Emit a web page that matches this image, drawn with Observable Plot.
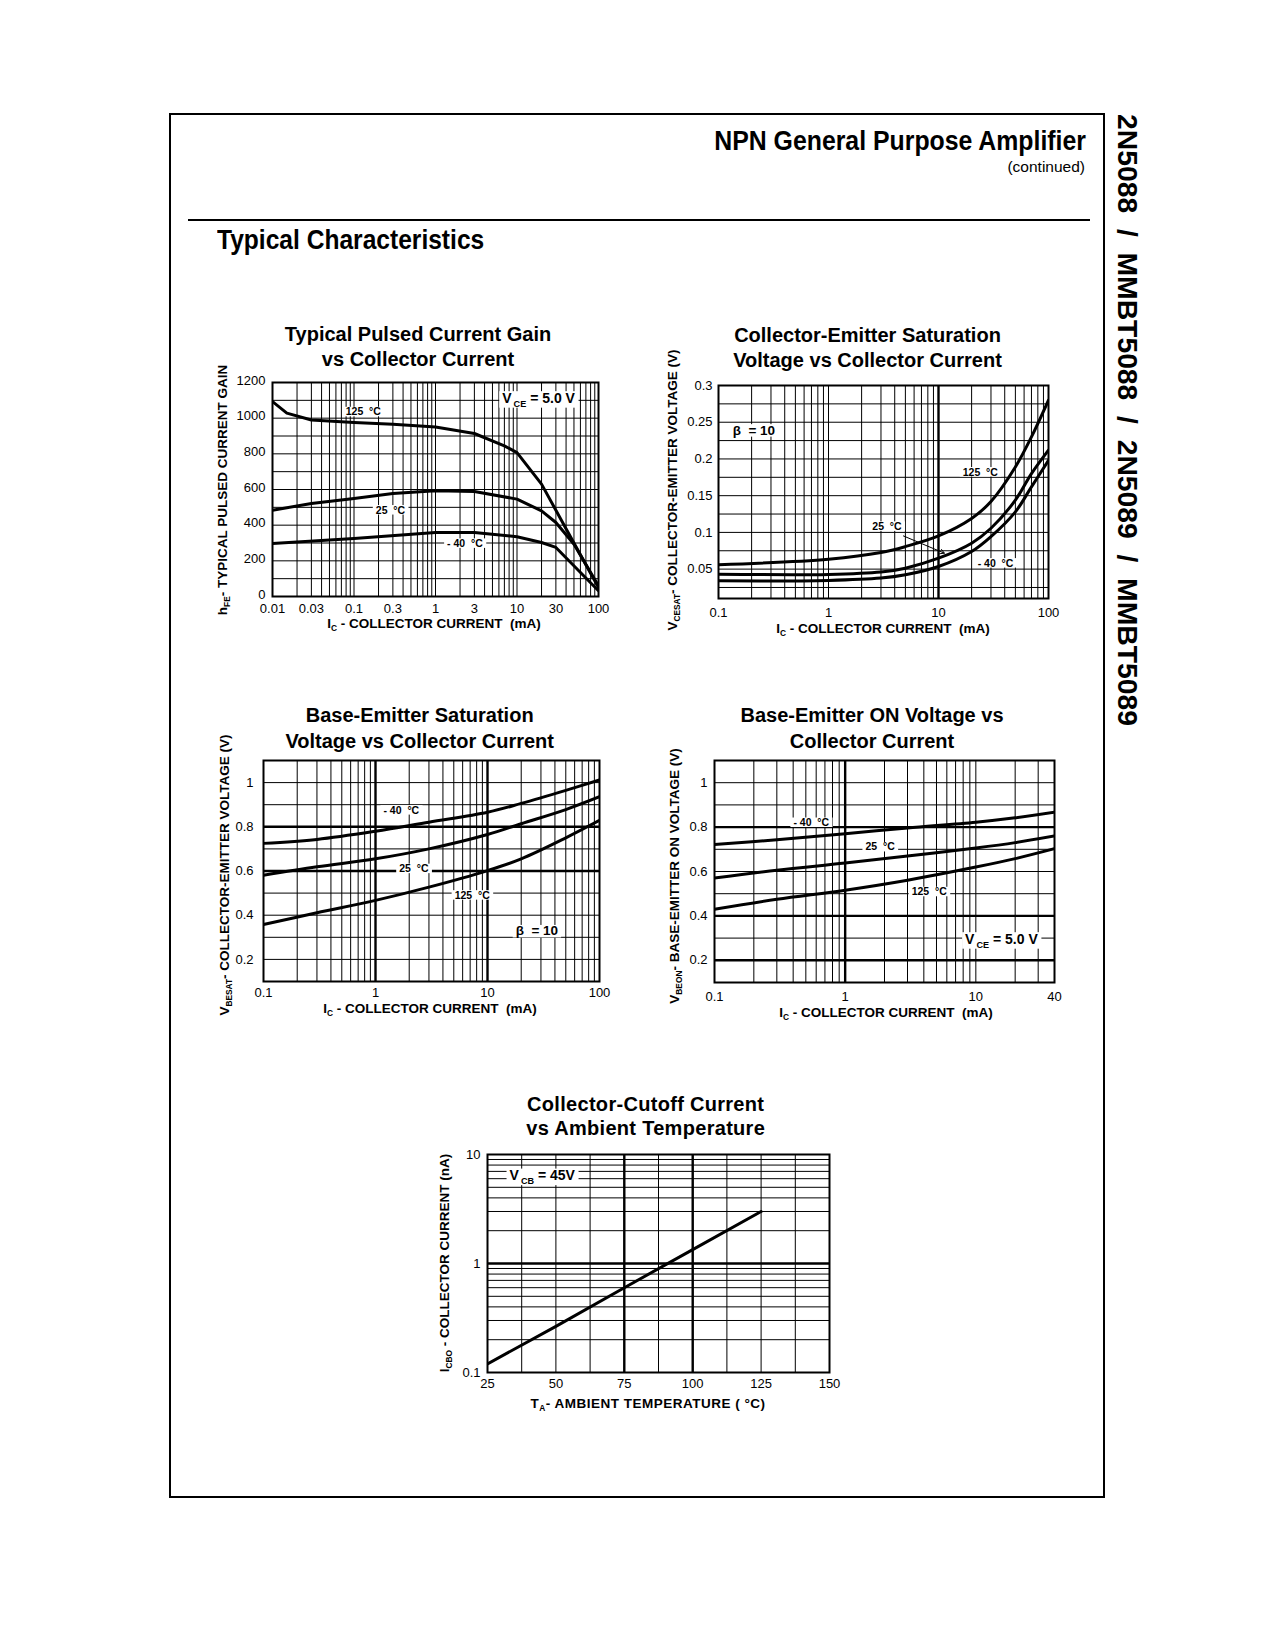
<!DOCTYPE html>
<html>
<head>
<meta charset="utf-8">
<script src="https://cdn.jsdelivr.net/npm/d3@7"></script>
<script src="https://cdn.jsdelivr.net/npm/@observablehq/plot@0.6"></script>
<style>
  html, body { margin: 0; padding: 0; background: #fff; }
  body { font-family: "Liberation Sans", Arial, Helvetica, sans-serif; color: #000; }
  #page { position: relative; width: 1275px; height: 1650px; overflow: hidden; background: #fff; }
  .abs { position: absolute; }
  .lbl { position: absolute; white-space: nowrap; }
  .lbl sub { font-size: 62%; line-height: 0; vertical-align: -0.3em; }
</style>
</head>
<body>
<div id="page"></div>
<script>
// ================= DATA =================
// Chart 1: Typical Pulsed Current Gain vs Collector Current (hFE vs Ic, mA)
const hfe_ic_125 = [0.01, 0.015, 0.03, 0.1, 0.3, 1, 3, 7, 10, 20, 40, 100];
const hfe_125    = [1093, 1028, 990, 976, 966, 951, 914, 845, 807, 630, 380, 50];
const hfe_ic_25  = [0.01, 0.03, 0.1, 0.3, 1, 3, 10, 20, 30, 50, 100];
const hfe_25     = [484, 521, 550, 578, 593, 589, 546, 480, 415, 293, 60];
const hfe_ic_m40 = [0.01, 0.1, 1, 3, 10, 20, 30, 100];
const hfe_m40    = [297, 325, 359, 359, 335, 303, 275, 32];
const hfe_xticks = [0.01, 0.03, 0.1, 0.3, 1, 3, 10, 30, 100];
const hfe_yticks = [0, 200, 400, 600, 800, 1000, 1200];

// Chart 2: Collector-Emitter Saturation Voltage vs Collector Current
const vcesat_ic   = [0.1, 1, 3, 5, 10, 20, 30, 50, 70, 100];
const vcesat_125  = [0.056, 0.0636, 0.0726, 0.0807, 0.0952, 0.119, 0.142, 0.189, 0.230, 0.280];
const vcesat_25   = [0.043, 0.0428, 0.046, 0.0513, 0.0649, 0.0853, 0.1056, 0.144, 0.180, 0.212];
const vcesat_m40  = [0.034, 0.0346, 0.0378, 0.0423, 0.0536, 0.074, 0.0943, 0.128, 0.162, 0.198];
const vcesat_xticks = [0.1, 1, 10, 100];
const vcesat_yticks = [0.05, 0.1, 0.15, 0.2, 0.25, 0.3];

// Chart 3: Base-Emitter Saturation Voltage vs Collector Current
const vbesat_ic  = [0.1, 0.3, 1, 3, 10, 20, 50, 100];
const vbesat_m40 = [0.725, 0.743, 0.780, 0.821, 0.866, 0.906, 0.965, 1.012];
const vbesat_25  = [0.581, 0.619, 0.655, 0.700, 0.765, 0.814, 0.878, 0.936];
const vbesat_125 = [0.358, 0.411, 0.467, 0.527, 0.602, 0.655, 0.750, 0.829];
const vbesat_xticks = [0.1, 1, 10, 100];
const vbesat_yticks = [0.2, 0.4, 0.6, 0.8, 1];

// Chart 4: Base-Emitter ON Voltage vs Collector Current
const vbeon_ic  = [0.1, 0.3, 1, 3, 10, 20, 40];
const vbeon_m40 = [0.722, 0.743, 0.770, 0.796, 0.822, 0.842, 0.867];
const vbeon_25  = [0.571, 0.606, 0.638, 0.670, 0.706, 0.730, 0.760];
const vbeon_125 = [0.430, 0.475, 0.516, 0.561, 0.620, 0.658, 0.703];
const vbeon_xticks = [0.1, 1, 10, 40];
const vbeon_yticks = [0.2, 0.4, 0.6, 0.8, 1];

// Chart 5: Collector-Cutoff Current vs Ambient Temperature
const icbo_ta = [25, 50, 75, 100, 125];
const icbo_na = [0.12, 0.265, 0.6, 1.34, 3.0];
const icbo_xticks = [25, 50, 75, 100, 125, 150];
const icbo_yticks = [0.1, 1, 10];

// annotation labels (data units)
const hfe_labels = [
  {x: 0.13, y: 1035, text: "125  °C", size: 10.5},
  {x: 0.28, y: 484, text: "25  °C", size: 10.5},
  {x: 2.3, y: 297, text: "- 40  °C", size: 10.5},
  {x: 18.4, y: 1112, text: "V_{CE} = 5.0 V", size: 14}
];
const vcesat_labels = [
  {x: 0.21, y: 0.239, text: "β  = 10", size: 13.5},
  {x: 24, y: 0.182, text: "125  °C", size: 10.5},
  {x: 3.4, y: 0.108, text: "25  °C", size: 10.5},
  {x: 33, y: 0.058, text: "- 40  °C", size: 10.5}
];
const vcesat_arrows = [{x1: 4.8, y1: 0.0952, x2: 11.3, y2: 0.0717}];
const vbesat_labels = [
  {x: 1.7, y: 0.875, text: "- 40  °C", size: 10.5},
  {x: 2.2, y: 0.61, text: "25  °C", size: 10.5},
  {x: 7.3, y: 0.49, text: "125  °C", size: 10.5},
  {x: 27.6, y: 0.328, text: "β  = 10", size: 13.5}
];
const vbeon_labels = [
  {x: 0.55, y: 0.82, text: "- 40  °C", size: 10.5},
  {x: 1.85, y: 0.71, text: "25  °C", size: 10.5},
  {x: 4.4, y: 0.508, text: "125  °C", size: 10.5},
  {x: 15.7, y: 0.295, text: "V_{CE} = 5.0 V", size: 14}
];
const icbo_labels = [
  {x: 45, y: 6.4, text: "V_{CB} = 45V", size: 14}
];

// ================= HELPERS =================
const page = document.getElementById("page");
const series = (xs, ys, t) => xs.map((x, i) => ({x, y: ys[i], t}));
function logGrid(lo, hi) {
  const out = [];
  for (let e = Math.floor(Math.log10(lo)); e <= Math.ceil(Math.log10(hi)); e++) {
    for (let k = 1; k <= 9; k++) {
      const v = +(k * Math.pow(10, e)).toPrecision(6);
      if (v >= lo * 0.999 && v <= hi * 1.001) out.push(v);
    }
  }
  return out;
}
function linGrid(lo, hi, step) {
  const out = [];
  const n = Math.round((hi - lo) / step);
  for (let i = 0; i <= n; i++) out.push(+(lo + i * step).toPrecision(6));
  return out;
}
const SVGNS = "http://www.w3.org/2000/svg";
const clean = s => s.replace(/_\{([^}]*)\}/g, "$1");
function subify(svg) {
  svg.querySelectorAll("text").forEach(t => {
    const spans = t.querySelectorAll("tspan");
    const targets = spans.length ? [...spans] : [t];
    targets.forEach(el => {
      const s = el.textContent;
      if (!s.includes("_{")) return;
      el.textContent = "";
      const parts = s.split(/(_\{[^}]*\})/).filter(p => p);
      let shifted = false;
      for (const p of parts) {
        const ts = document.createElementNS(SVGNS, "tspan");
        if (p.startsWith("_{")) {
          ts.textContent = p.slice(2, -1);
          ts.setAttribute("font-size", "65%");
          ts.setAttribute("dy", "4");
          ts.setAttribute("dx", "2");
          shifted = true;
        } else {
          ts.textContent = p;
          if (shifted) { ts.setAttribute("dy", "-4"); shifted = false; }
        }
        el.appendChild(ts);
      }
    });
  });
}
function boxify(svg, labels) {
  const wanted = new Set(labels.map(d => clean(d.text)));
  svg.querySelectorAll("text").forEach(t => {
    if (!wanted.has(t.textContent)) return;
    const b = t.getBBox();
    const r = document.createElementNS(SVGNS, "rect");
    r.setAttribute("x", b.x - 3);
    r.setAttribute("y", b.y + 1.5);
    r.setAttribute("width", b.width + 6);
    r.setAttribute("height", Math.max(0, b.height - 2.5));
    r.setAttribute("fill", "white");
    const tr = t.getAttribute("transform");
    if (tr) r.setAttribute("transform", tr);
    t.parentNode.insertBefore(r, t);
  });
}
function htmlText(html, x, baseline, o = {}) {
  const size = o.size || 13.5, weight = o.weight || "bold", anchor = o.anchor || "middle", sx = o.sx || 1;
  const d = document.createElement("div");
  d.className = "lbl";
  d.innerHTML = html;
  d.style.left = x + "px";
  d.style.top = (baseline - 0.8465 * size) + "px";
  d.style.fontSize = size + "px";
  d.style.fontWeight = weight;
  d.style.lineHeight = size + "px";
  if (o.ls) d.style.letterSpacing = o.ls + "px";
  const tx = anchor === "middle" ? "-50%" : anchor === "end" ? "-100%" : "0";
  d.style.transformOrigin = anchor === "middle" ? "center" : anchor === "end" ? "right" : "left";
  d.style.transform = `translateX(${tx}) scaleX(${sx})`;
  page.appendChild(d);
  return d;
}
function rotText(html, cx, cy, o = {}) {
  const size = o.size || 13.5, rot = o.rot == null ? -90 : o.rot;
  const d = document.createElement("div");
  d.className = "lbl";
  d.innerHTML = html;
  d.style.left = cx + "px";
  d.style.top = cy + "px";
  d.style.fontSize = size + "px";
  d.style.fontWeight = o.weight || "bold";
  d.style.lineHeight = size + "px";
  if (o.ls) d.style.letterSpacing = o.ls + "px";
  d.style.transform = `translate(-50%, -50%) rotate(${rot}deg)`;
  page.appendChild(d);
  return d;
}

function chart(o) {
  const pad = {l: 80, t: 20, r: 30, b: 40};
  const fmt = d => String(d);
  const marks = [
    Plot.ruleX(o.gridX, {stroke: "black", strokeWidth: 1}),
    Plot.ruleY(o.gridY, {stroke: "black", strokeWidth: 1})
  ];
  if (o.thickX) marks.push(Plot.ruleX(o.thickX, {stroke: "black", strokeWidth: 2.4}));
  if (o.thickY) marks.push(Plot.ruleY(o.thickY, {stroke: "black", strokeWidth: 2.4}));
  marks.push(Plot.frame({stroke: "black", strokeWidth: 2}));
  if (o.arrows) marks.push(Plot.arrow(o.arrows, {x1: "x1", y1: "y1", x2: "x2", y2: "y2", stroke: "black", strokeWidth: 1, headLength: 7, bend: 0}));
  marks.push(Plot.text(o.labels, {x: "x", y: "y", text: "text", fontSize: d => d.size, fontWeight: "bold", fill: "black"}));
  marks.push(Plot.line(o.data, {x: "x", y: "y", z: "t", stroke: "black", strokeWidth: 3, curve: o.curve || "catmull-rom", clip: true}));
  // tick labels
  marks.push(Plot.text(o.ticksX, {x: d => d, frameAnchor: "bottom", lineAnchor: "top", dy: o.padX, text: fmt, fontSize: 13, fill: "black"}));
  marks.push(Plot.text(o.ticksY, {y: d => d, frameAnchor: "left", textAnchor: "end", dx: -o.padY, dy: o.yDy || 0, text: fmt, fontSize: 13, fill: "black"}));
  const svg = Plot.plot({
    width: pad.l + o.w + pad.r,
    height: pad.t + o.h + pad.b,
    marginLeft: pad.l, marginRight: pad.r, marginTop: pad.t, marginBottom: pad.b,
    x: {type: o.xType, domain: o.xDomain, label: null, axis: null},
    y: {type: o.yType, domain: o.yDomain, label: null, axis: null},
    style: {fontFamily: '"Liberation Sans", Arial, Helvetica, sans-serif', color: "black", background: "transparent", overflow: "visible"},
    marks
  });
  svg.classList.add("abs");
  svg.style.left = (o.l - pad.l) + "px";
  svg.style.top = (o.t - pad.t) + "px";
  page.appendChild(svg);
  subify(svg);
  boxify(svg, o.labels);
  return svg;
}

// ================= PAGE FURNITURE =================
const border = document.createElement("div");
border.className = "abs";
border.style.cssText = "left:169px;top:113px;width:936px;height:1385px;border:2px solid #000;box-sizing:border-box;";
page.appendChild(border);
const rule = document.createElement("div");
rule.className = "abs";
rule.style.cssText = "left:188px;top:219px;width:902px;height:2px;background:#000;";
page.appendChild(rule);

htmlText("NPN General Purpose Amplifier", 1086, 151, {size: 27, anchor: "end", sx: 0.92});
htmlText("(continued)", 1085, 172, {size: 15.5, weight: "normal", anchor: "end"});
htmlText("Typical Characteristics", 217, 250, {size: 27, anchor: "start", sx: 0.91});
rotText("2N5088&nbsp; /&nbsp; MMBT5088&nbsp; /&nbsp; 2N5089&nbsp; /&nbsp; MMBT5089", 1128, 420, {size: 28.3, rot: 90});

// ================= CHARTS =================
// Chart 1
chart({
  l: 272, t: 382, w: 326, h: 214,
  xType: "log", xDomain: [0.01, 100], yType: "linear", yDomain: [0, 1200],
  gridX: logGrid(0.01, 100), gridY: linGrid(0, 1200, 100),
  ticksX: hfe_xticks, ticksY: hfe_yticks, padX: 7, padY: 7, yDy: -2,
  curve: "linear",
  data: [...series(hfe_ic_125, hfe_125, "125"), ...series(hfe_ic_25, hfe_25, "25"), ...series(hfe_ic_m40, hfe_m40, "-40")],
  labels: hfe_labels
});
htmlText("Typical Pulsed Current Gain", 418, 340.7, {size: 20});
htmlText("vs Collector Current", 418, 366, {size: 20});
rotText("h<sub>FE</sub>- TYPICAL PULSED CURRENT GAIN", 223, 490);
htmlText("I<sub>C</sub> - COLLECTOR CURRENT&nbsp; (mA)", 434, 628);

// Chart 2
chart({
  l: 718, t: 385, w: 330, h: 213,
  xType: "log", xDomain: [0.1, 100], yType: "linear", yDomain: [0.01, 0.3],
  gridX: logGrid(0.1, 100), gridY: linGrid(0.025, 0.3, 0.025), thickX: [10],
  ticksX: vcesat_xticks, ticksY: vcesat_yticks, padX: 9, padY: 6,
  data: [...series(vcesat_ic, vcesat_125, "125"), ...series(vcesat_ic, vcesat_25, "25"), ...series(vcesat_ic, vcesat_m40, "-40")],
  labels: vcesat_labels, arrows: vcesat_arrows
});
htmlText("Collector-Emitter Saturation", 867.5, 341.7, {size: 20});
htmlText("Voltage vs Collector Current", 867.5, 366.7, {size: 20});
rotText("V<sub>CESAT</sub>- COLLECTOR-EMITTER VOLTAGE (V)", 673, 490);
htmlText("I<sub>C</sub> - COLLECTOR CURRENT&nbsp; (mA)", 883, 633);

// Chart 3
chart({
  l: 263, t: 760, w: 336, h: 221,
  xType: "log", xDomain: [0.1, 100], yType: "linear", yDomain: [0.1, 1.1],
  gridX: logGrid(0.1, 100), gridY: linGrid(0.1, 1.1, 0.1), thickX: [1, 10], thickY: [0.6, 0.8],
  ticksX: vbesat_xticks, ticksY: vbesat_yticks, padX: 6.5, padY: 10,
  data: [...series(vbesat_ic, vbesat_m40, "-40"), ...series(vbesat_ic, vbesat_25, "25"), ...series(vbesat_ic, vbesat_125, "125")],
  labels: vbesat_labels
});
htmlText("Base-Emitter Saturation", 419.7, 722.3, {size: 20});
htmlText("Voltage vs Collector Current", 419.7, 747.7, {size: 20});
rotText("V<sub>BESAT</sub>- COLLECTOR-EMITTER VOLTAGE (V)", 225, 875);
htmlText("I<sub>C</sub> - COLLECTOR CURRENT&nbsp; (mA)", 430, 1013);

// Chart 4
chart({
  l: 714, t: 760, w: 340, h: 222,
  xType: "log", xDomain: [0.1, 40], yType: "linear", yDomain: [0.1, 1.1],
  gridX: logGrid(0.1, 40), gridY: linGrid(0.1, 1.1, 0.1), thickX: [1], thickY: [0.2, 0.4, 0.8],
  ticksX: vbeon_xticks, ticksY: vbeon_yticks, padX: 9.5, padY: 7,
  data: [...series(vbeon_ic, vbeon_m40, "-40"), ...series(vbeon_ic, vbeon_25, "25"), ...series(vbeon_ic, vbeon_125, "125")],
  labels: vbeon_labels
});
htmlText("Base-Emitter ON Voltage vs", 872, 722.3, {size: 20});
htmlText("Collector Current", 872, 747.7, {size: 20});
rotText("V<sub>BEON</sub>- BASE-EMITTER ON VOLTAGE (V)", 675, 876);
htmlText("I<sub>C</sub> - COLLECTOR CURRENT&nbsp; (mA)", 886, 1017.7);

// Chart 5
chart({
  l: 487, t: 1154, w: 342, h: 218,
  xType: "linear", xDomain: [25, 150], yType: "log", yDomain: [0.1, 10],
  gridX: linGrid(25, 150, 12.5), gridY: logGrid(0.1, 10), thickX: [75, 100], thickY: [1],
  ticksX: icbo_xticks, ticksY: icbo_yticks, padX: 6, padY: 7,
  curve: "linear",
  data: series(icbo_ta, icbo_na, "icbo"),
  labels: icbo_labels
});
htmlText("Collector-Cutoff Current", 645.7, 1110.7, {size: 20, ls: 0.3});
htmlText("vs Ambient Temperature", 645.7, 1135, {size: 20, ls: 0.3});
rotText("I<sub>CBO</sub> - COLLECTOR CURRENT (nA)", 445, 1263);
htmlText("T<sub>A</sub>- AMBIENT TEMPERATURE ( °C)", 648, 1408, {ls: 0.5});
</script>
</body>
</html>
